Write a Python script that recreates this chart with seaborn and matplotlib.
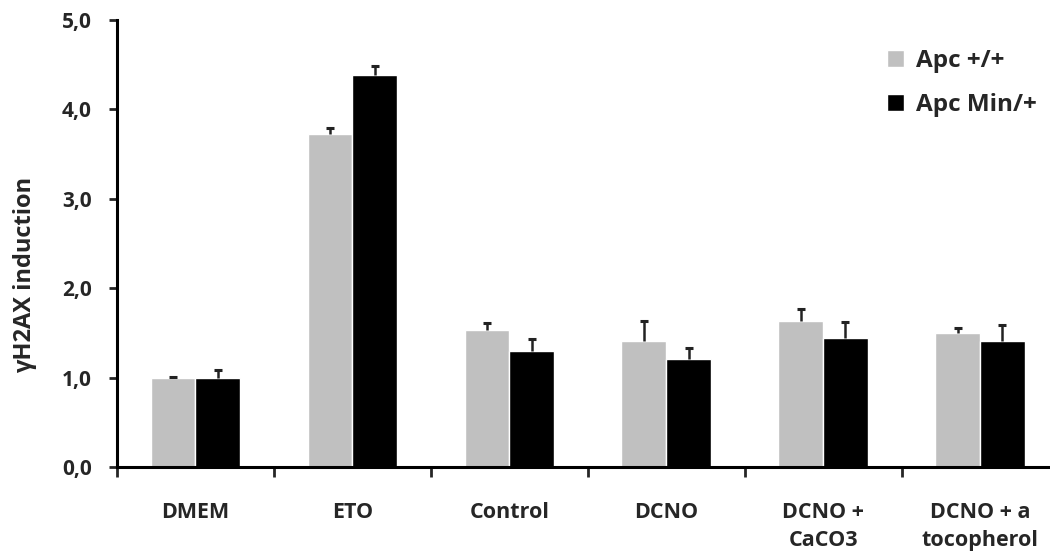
import numpy as np
import pandas as pd
import matplotlib
matplotlib.use("Agg")
import matplotlib.pyplot as plt
import seaborn as sns

# values
categories = ["DMEM", "ETO", "Control", "DCNO", "DCNO +\nCaCO3", "DCNO + a\ntocopherol"]
groups = ["Apc +/+", "Apc Min/+"]
wt_mean = [1.00, 3.72, 1.53, 1.41, 1.63, 1.50]
wt_err = [0.01, 0.07, 0.08, 0.22, 0.14, 0.05]
min_mean = [1.00, 4.39, 1.30, 1.21, 1.44, 1.41]
min_err = [0.08, 0.10, 0.13, 0.12, 0.18, 0.18]
yticks = [0, 1, 2, 3, 4, 5]
ytick_labels = ["0,0", "1,0", "2,0", "3,0", "4,0", "5,0"]

df = pd.DataFrame({
    "cat": categories * 2,
    "group": [groups[0]] * 6 + [groups[1]] * 6,
    "value": wt_mean + min_mean,
})

sns.set_style("white")
plt.rcParams["font.family"] = ["Open Sans", "DejaVu Sans"]
plt.rcParams["font.weight"] = "bold"

fig = plt.figure(figsize=(10.5, 5.59), dpi=100)
ax = fig.add_axes([0.1114, 0.1646, 0.8967, 0.7996])

palette = {groups[0]: "#c0c0c0", groups[1]: "#000000"}
sns.barplot(data=df, x="cat", y="value", hue="group", palette=palette,
            width=0.57, errorbar=None, saturation=1, ax=ax, legend=True)

# upper error bars only, positions taken from seaborn's bars
bars = [p for p in ax.patches if p.get_height() > 0]
errs = wt_err + min_err
for p, e in zip(bars, errs):
    xc = p.get_x() + p.get_width() / 2
    _, caps, _ = ax.errorbar(xc, p.get_height(), yerr=[[0], [e]], fmt="none",
                             ecolor="#222222", elinewidth=1.8, capsize=3, capthick=2.2)
    caps[0].set_visible(False)

ax.set_xlim(-0.5, 5.5)
ax.set_ylim(0, 5)
ax.set_yticks(yticks)
ax.set_yticklabels(ytick_labels, fontsize=15, fontweight="bold")
ax.set_xticks(range(len(categories)))
ax.set_xticklabels(categories, fontsize=15.5, fontweight="bold", va="top", linespacing=1.45)
ax.set_xticks(np.arange(-0.5, 5.6, 1), minor=True)
ax.tick_params(axis="x", which="major", length=0, pad=25)
ax.tick_params(axis="x", which="minor", bottom=True, length=7, width=2, direction="out")
ax.tick_params(axis="y", left=True, length=6, width=2, direction="out", pad=12)
ax.set_xlabel("")
ax.set_ylabel("γH2AX induction", fontsize=17, fontweight="bold")
ax.yaxis.set_label_coords(-0.085, 0.43)

sns.despine(ax=ax)
for s in ["left", "bottom"]:
    ax.spines[s].set_linewidth(2.2)
    ax.spines[s].set_color("black")

leg = ax.legend(loc="upper right", bbox_to_anchor=(1.0, 0.985), frameon=False,
                handlelength=0.7, handleheight=0.7, handletextpad=0.5,
                labelspacing=0.85, prop={"weight": "bold", "size": 17.5})

fig.savefig("out.png", dpi=100)
